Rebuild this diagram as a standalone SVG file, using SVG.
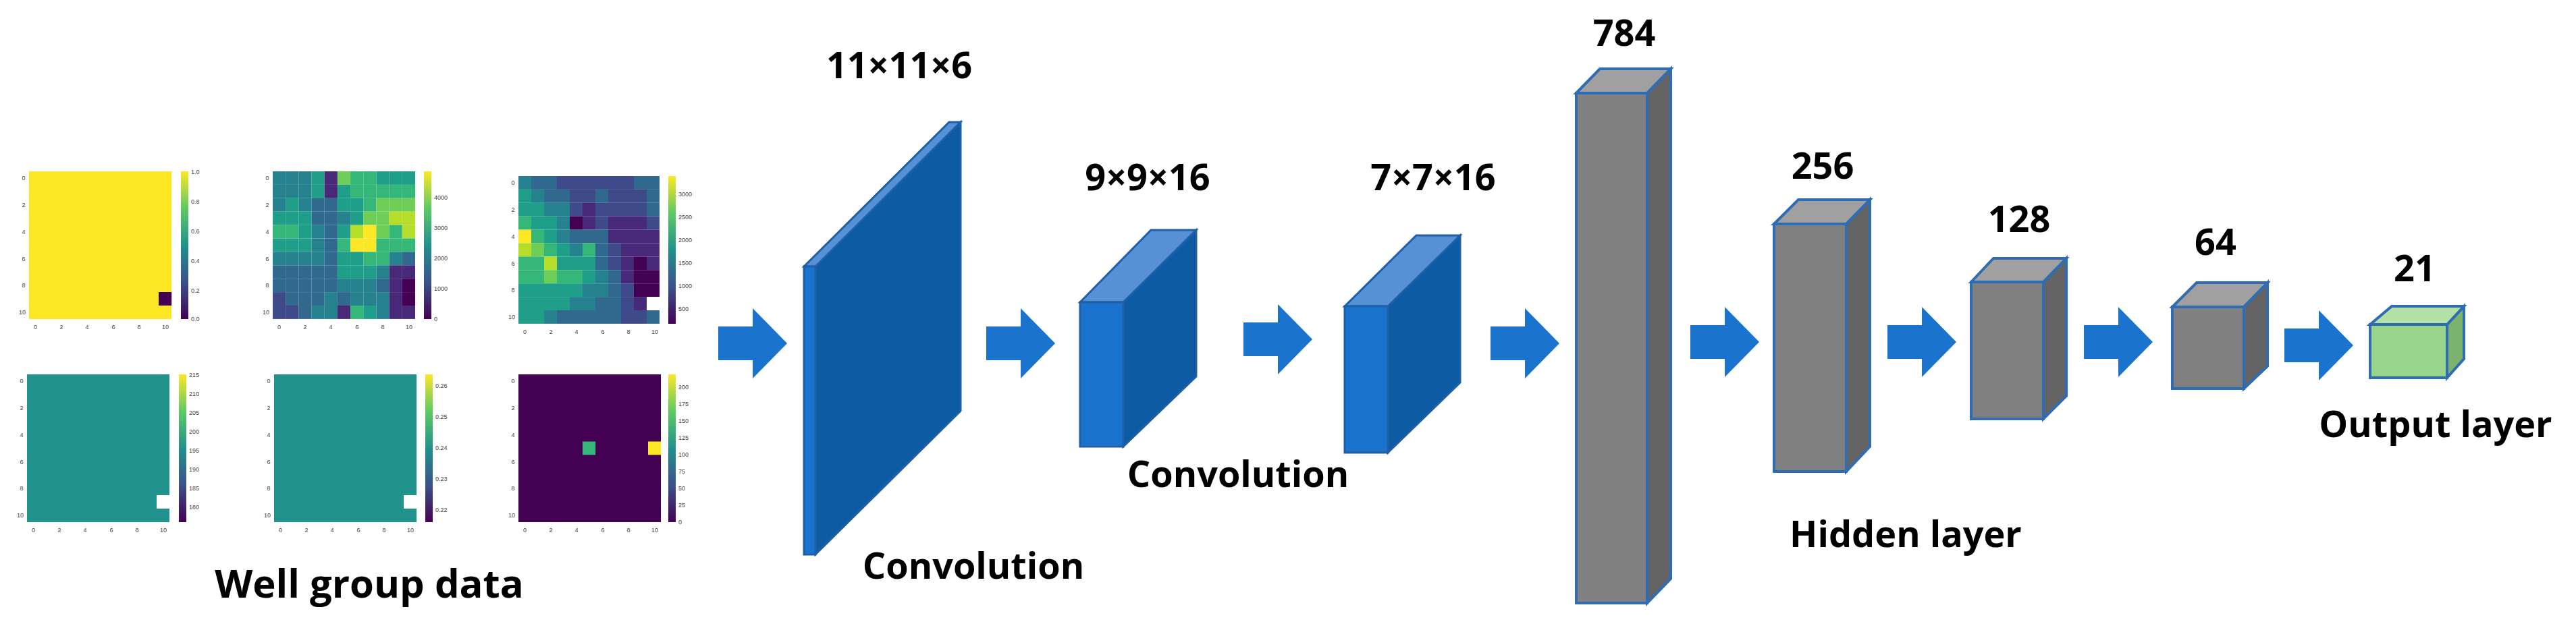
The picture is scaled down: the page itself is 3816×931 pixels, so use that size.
<svg xmlns="http://www.w3.org/2000/svg" width="3816" height="931" viewBox="0 0 3816 931">
<defs>
<linearGradient id="vir" x1="0" y1="1" x2="0" y2="0">
<stop offset="0" stop-color="#440154"/><stop offset="0.25" stop-color="#3b528b"/><stop offset="0.5" stop-color="#21918c"/><stop offset="0.75" stop-color="#5ec962"/><stop offset="1" stop-color="#fde725"/>
</linearGradient>
<path id="arr" d="M0,-25 H51 V-52 L102,0 L51,52 V25 H0 Z"/>
</defs>
<style>
.lbl{font-family:"Open Sans","Noto Sans",sans-serif;font-weight:700;font-size:54px;fill:#000;text-anchor:middle}
.big{font-size:58px}
.tk{font-family:"Liberation Sans",sans-serif;font-size:9px;fill:#444;text-anchor:middle}
.tkl{font-family:"Liberation Sans",sans-serif;font-size:9px;fill:#444;text-anchor:start}
.a{fill:#1a73cc}
.c0{fill:#440154}.c1{fill:#482878}.c2{fill:#3e4a89}.c3{fill:#31688e}.c4{fill:#26828e}.c5{fill:#1f9e89}.c6{fill:#35b779}.c7{fill:#6ece58}.c8{fill:#b5de2b}.c9{fill:#fde725}.cw{fill:#fff}.ct{fill:#21918c}
.bf{fill:#1a73cc;stroke:#1f5fa8;stroke-width:3}
.bs{fill:#0d5ba3;stroke:#1f5fa8;stroke-width:3}
.bt{fill:#5591d4;stroke:#1f5fa8;stroke-width:3}
.gf{fill:#808080;stroke:#2e6db4;stroke-width:4}
.gs{fill:#646464;stroke:#2e6db4;stroke-width:4}
.gt{fill:#a0a0a0;stroke:#2e6db4;stroke-width:4}
.nf{fill:#98d48a;stroke:#2e6db4;stroke-width:4}
.ns{fill:#7ab26e;stroke:#2e6db4;stroke-width:4}
.nt{fill:#b2e0a6;stroke:#2e6db4;stroke-width:4}
</style>

<g id="well-group-data">
<g transform="translate(43,254)">
<rect width="211" height="219" class="c9"/>
<rect x="192" y="179" width="19.2" height="19.9" class="c0"/>
<rect x="225" width="11" height="219" fill="url(#vir)"/>
<text class="tkl" x="240" y="4">1.0</text><text class="tkl" x="240" y="48">0.8</text><text class="tkl" x="240" y="92">0.6</text><text class="tkl" x="240" y="136">0.4</text><text class="tkl" x="240" y="180">0.2</text><text class="tkl" x="240" y="222">0.0</text>
</g>
<g id="p2" transform="translate(404,254)">
<g transform="scale(19.18,19.9)">
<rect x="0" y="0" width="1" height="1" class="c4"/><rect x="1" y="0" width="1" height="1" class="c4"/><rect x="2" y="0" width="1" height="1" class="c4"/><rect x="3" y="0" width="1" height="1" class="c5"/><rect x="4" y="0" width="1" height="1" class="c1"/><rect x="5" y="0" width="1" height="1" class="c7"/><rect x="6" y="0" width="1" height="1" class="c6"/><rect x="7" y="0" width="1" height="1" class="c6"/><rect x="8" y="0" width="1" height="1" class="c5"/><rect x="9" y="0" width="1" height="1" class="c5"/><rect x="10" y="0" width="1" height="1" class="c5"/>
<rect x="0" y="1" width="1" height="1" class="c4"/><rect x="1" y="1" width="1" height="1" class="c4"/><rect x="2" y="1" width="1" height="1" class="c4"/><rect x="3" y="1" width="1" height="1" class="c5"/><rect x="4" y="1" width="1" height="1" class="c1"/><rect x="5" y="1" width="1" height="1" class="c5"/><rect x="6" y="1" width="1" height="1" class="c6"/><rect x="7" y="1" width="1" height="1" class="c6"/><rect x="8" y="1" width="1" height="1" class="c6"/><rect x="9" y="1" width="1" height="1" class="c6"/><rect x="10" y="1" width="1" height="1" class="c6"/>
<rect x="0" y="2" width="1" height="1" class="c4"/><rect x="1" y="2" width="1" height="1" class="c5"/><rect x="2" y="2" width="1" height="1" class="c4"/><rect x="3" y="2" width="1" height="1" class="c3"/><rect x="4" y="2" width="1" height="1" class="c3"/><rect x="5" y="2" width="1" height="1" class="c5"/><rect x="6" y="2" width="1" height="1" class="c5"/><rect x="7" y="2" width="1" height="1" class="c6"/><rect x="8" y="2" width="1" height="1" class="c7"/><rect x="9" y="2" width="1" height="1" class="c7"/><rect x="10" y="2" width="1" height="1" class="c7"/>
<rect x="0" y="3" width="1" height="1" class="c5"/><rect x="1" y="3" width="1" height="1" class="c5"/><rect x="2" y="3" width="1" height="1" class="c5"/><rect x="3" y="3" width="1" height="1" class="c3"/><rect x="4" y="3" width="1" height="1" class="c3"/><rect x="5" y="3" width="1" height="1" class="c4"/><rect x="6" y="3" width="1" height="1" class="c5"/><rect x="7" y="3" width="1" height="1" class="c7"/><rect x="8" y="3" width="1" height="1" class="c7"/><rect x="9" y="3" width="1" height="1" class="c8"/><rect x="10" y="3" width="1" height="1" class="c8"/>
<rect x="0" y="4" width="1" height="1" class="c6"/><rect x="1" y="4" width="1" height="1" class="c6"/><rect x="2" y="4" width="1" height="1" class="c5"/><rect x="3" y="4" width="1" height="1" class="c4"/><rect x="4" y="4" width="1" height="1" class="c3"/><rect x="5" y="4" width="1" height="1" class="c5"/><rect x="6" y="4" width="1" height="1" class="c8"/><rect x="7" y="4" width="1" height="1" class="c9"/><rect x="8" y="4" width="1" height="1" class="c7"/><rect x="9" y="4" width="1" height="1" class="c6"/><rect x="10" y="4" width="1" height="1" class="c8"/>
<rect x="0" y="5" width="1" height="1" class="c5"/><rect x="1" y="5" width="1" height="1" class="c5"/><rect x="2" y="5" width="1" height="1" class="c5"/><rect x="3" y="5" width="1" height="1" class="c4"/><rect x="4" y="5" width="1" height="1" class="c3"/><rect x="5" y="5" width="1" height="1" class="c6"/><rect x="6" y="5" width="1" height="1" class="c9"/><rect x="7" y="5" width="1" height="1" class="c9"/><rect x="8" y="5" width="1" height="1" class="c6"/><rect x="9" y="5" width="1" height="1" class="c6"/><rect x="10" y="5" width="1" height="1" class="c6"/>
<rect x="0" y="6" width="1" height="1" class="c4"/><rect x="1" y="6" width="1" height="1" class="c4"/><rect x="2" y="6" width="1" height="1" class="c4"/><rect x="3" y="6" width="1" height="1" class="c4"/><rect x="4" y="6" width="1" height="1" class="c3"/><rect x="5" y="6" width="1" height="1" class="c5"/><rect x="6" y="6" width="1" height="1" class="c5"/><rect x="7" y="6" width="1" height="1" class="c6"/><rect x="8" y="6" width="1" height="1" class="c6"/><rect x="9" y="6" width="1" height="1" class="c4"/><rect x="10" y="6" width="1" height="1" class="c3"/>
<rect x="0" y="7" width="1" height="1" class="c3"/><rect x="1" y="7" width="1" height="1" class="c3"/><rect x="2" y="7" width="1" height="1" class="c3"/><rect x="3" y="7" width="1" height="1" class="c3"/><rect x="4" y="7" width="1" height="1" class="c3"/><rect x="5" y="7" width="1" height="1" class="c5"/><rect x="6" y="7" width="1" height="1" class="c5"/><rect x="7" y="7" width="1" height="1" class="c5"/><rect x="8" y="7" width="1" height="1" class="c4"/><rect x="9" y="7" width="1" height="1" class="c1"/><rect x="10" y="7" width="1" height="1" class="c1"/>
<rect x="0" y="8" width="1" height="1" class="c3"/><rect x="1" y="8" width="1" height="1" class="c3"/><rect x="2" y="8" width="1" height="1" class="c3"/><rect x="3" y="8" width="1" height="1" class="c3"/><rect x="4" y="8" width="1" height="1" class="c3"/><rect x="5" y="8" width="1" height="1" class="c4"/><rect x="6" y="8" width="1" height="1" class="c4"/><rect x="7" y="8" width="1" height="1" class="c4"/><rect x="8" y="8" width="1" height="1" class="c3"/><rect x="9" y="8" width="1" height="1" class="c1"/><rect x="10" y="8" width="1" height="1" class="c0"/>
<rect x="0" y="9" width="1" height="1" class="c2"/><rect x="1" y="9" width="1" height="1" class="c3"/><rect x="2" y="9" width="1" height="1" class="c3"/><rect x="3" y="9" width="1" height="1" class="c3"/><rect x="4" y="9" width="1" height="1" class="c4"/><rect x="5" y="9" width="1" height="1" class="c3"/><rect x="6" y="9" width="1" height="1" class="c4"/><rect x="7" y="9" width="1" height="1" class="c4"/><rect x="8" y="9" width="1" height="1" class="c4"/><rect x="9" y="9" width="1" height="1" class="c1"/><rect x="10" y="9" width="1" height="1" class="c0"/>
<rect x="0" y="10" width="1" height="1" class="c2"/><rect x="1" y="10" width="1" height="1" class="c2"/><rect x="2" y="10" width="1" height="1" class="c3"/><rect x="3" y="10" width="1" height="1" class="c4"/><rect x="4" y="10" width="1" height="1" class="c4"/><rect x="5" y="10" width="1" height="1" class="c1"/><rect x="6" y="10" width="1" height="1" class="c6"/><rect x="7" y="10" width="1" height="1" class="c5"/><rect x="8" y="10" width="1" height="1" class="c4"/><rect x="9" y="10" width="1" height="1" class="c1"/><rect x="10" y="10" width="1" height="1" class="c1"/>
</g>
<rect x="224" width="11" height="219" fill="url(#vir)"/>
<text class="tkl" x="239" y="42">4000</text><text class="tkl" x="239" y="87">3000</text><text class="tkl" x="239" y="132">2000</text><text class="tkl" x="239" y="177">1000</text><text class="tkl" x="239" y="222">0</text>
</g>
<g transform="translate(768,261)">
<g transform="scale(19,19.9)">
<rect x="0" y="0" width="1" height="1" class="c4"/><rect x="1" y="0" width="1" height="1" class="c3"/><rect x="2" y="0" width="1" height="1" class="c3"/><rect x="3" y="0" width="1" height="1" class="c2"/><rect x="4" y="0" width="1" height="1" class="c2"/><rect x="5" y="0" width="1" height="1" class="c2"/><rect x="6" y="0" width="1" height="1" class="c2"/><rect x="7" y="0" width="1" height="1" class="c2"/><rect x="8" y="0" width="1" height="1" class="c2"/><rect x="9" y="0" width="1" height="1" class="c3"/><rect x="10" y="0" width="1" height="1" class="c3"/>
<rect x="0" y="1" width="1" height="1" class="c5"/><rect x="1" y="1" width="1" height="1" class="c4"/><rect x="2" y="1" width="1" height="1" class="c3"/><rect x="3" y="1" width="1" height="1" class="c3"/><rect x="4" y="1" width="1" height="1" class="c2"/><rect x="5" y="1" width="1" height="1" class="c2"/><rect x="6" y="1" width="1" height="1" class="c3"/><rect x="7" y="1" width="1" height="1" class="c2"/><rect x="8" y="1" width="1" height="1" class="c2"/><rect x="9" y="1" width="1" height="1" class="c2"/><rect x="10" y="1" width="1" height="1" class="c3"/>
<rect x="0" y="2" width="1" height="1" class="c5"/><rect x="1" y="2" width="1" height="1" class="c5"/><rect x="2" y="2" width="1" height="1" class="c4"/><rect x="3" y="2" width="1" height="1" class="c4"/><rect x="4" y="2" width="1" height="1" class="c2"/><rect x="5" y="2" width="1" height="1" class="c1"/><rect x="6" y="2" width="1" height="1" class="c2"/><rect x="7" y="2" width="1" height="1" class="c2"/><rect x="8" y="2" width="1" height="1" class="c2"/><rect x="9" y="2" width="1" height="1" class="c2"/><rect x="10" y="2" width="1" height="1" class="c3"/>
<rect x="0" y="3" width="1" height="1" class="c6"/><rect x="1" y="3" width="1" height="1" class="c5"/><rect x="2" y="3" width="1" height="1" class="c5"/><rect x="3" y="3" width="1" height="1" class="c4"/><rect x="4" y="3" width="1" height="1" class="c0"/><rect x="5" y="3" width="1" height="1" class="c1"/><rect x="6" y="3" width="1" height="1" class="c2"/><rect x="7" y="3" width="1" height="1" class="c1"/><rect x="8" y="3" width="1" height="1" class="c1"/><rect x="9" y="3" width="1" height="1" class="c1"/><rect x="10" y="3" width="1" height="1" class="c2"/>
<rect x="0" y="4" width="1" height="1" class="c9"/><rect x="1" y="4" width="1" height="1" class="c6"/><rect x="2" y="4" width="1" height="1" class="c5"/><rect x="3" y="4" width="1" height="1" class="c4"/><rect x="4" y="4" width="1" height="1" class="c3"/><rect x="5" y="4" width="1" height="1" class="c3"/><rect x="6" y="4" width="1" height="1" class="c3"/><rect x="7" y="4" width="1" height="1" class="c1"/><rect x="8" y="4" width="1" height="1" class="c1"/><rect x="9" y="4" width="1" height="1" class="c1"/><rect x="10" y="4" width="1" height="1" class="c1"/>
<rect x="0" y="5" width="1" height="1" class="c8"/><rect x="1" y="5" width="1" height="1" class="c7"/><rect x="2" y="5" width="1" height="1" class="c6"/><rect x="3" y="5" width="1" height="1" class="c5"/><rect x="4" y="5" width="1" height="1" class="c4"/><rect x="5" y="5" width="1" height="1" class="c6"/><rect x="6" y="5" width="1" height="1" class="c3"/><rect x="7" y="5" width="1" height="1" class="c2"/><rect x="8" y="5" width="1" height="1" class="c1"/><rect x="9" y="5" width="1" height="1" class="c1"/><rect x="10" y="5" width="1" height="1" class="c1"/>
<rect x="0" y="6" width="1" height="1" class="c6"/><rect x="1" y="6" width="1" height="1" class="c6"/><rect x="2" y="6" width="1" height="1" class="c8"/><rect x="3" y="6" width="1" height="1" class="c5"/><rect x="4" y="6" width="1" height="1" class="c5"/><rect x="5" y="6" width="1" height="1" class="c5"/><rect x="6" y="6" width="1" height="1" class="c3"/><rect x="7" y="6" width="1" height="1" class="c2"/><rect x="8" y="6" width="1" height="1" class="c1"/><rect x="9" y="6" width="1" height="1" class="c0"/><rect x="10" y="6" width="1" height="1" class="c1"/>
<rect x="0" y="7" width="1" height="1" class="c6"/><rect x="1" y="7" width="1" height="1" class="c6"/><rect x="2" y="7" width="1" height="1" class="c7"/><rect x="3" y="7" width="1" height="1" class="c6"/><rect x="4" y="7" width="1" height="1" class="c6"/><rect x="5" y="7" width="1" height="1" class="c5"/><rect x="6" y="7" width="1" height="1" class="c4"/><rect x="7" y="7" width="1" height="1" class="c3"/><rect x="8" y="7" width="1" height="1" class="c1"/><rect x="9" y="7" width="1" height="1" class="c0"/><rect x="10" y="7" width="1" height="1" class="c0"/>
<rect x="0" y="8" width="1" height="1" class="c5"/><rect x="1" y="8" width="1" height="1" class="c5"/><rect x="2" y="8" width="1" height="1" class="c5"/><rect x="3" y="8" width="1" height="1" class="c5"/><rect x="4" y="8" width="1" height="1" class="c5"/><rect x="5" y="8" width="1" height="1" class="c4"/><rect x="6" y="8" width="1" height="1" class="c4"/><rect x="7" y="8" width="1" height="1" class="c3"/><rect x="8" y="8" width="1" height="1" class="c2"/><rect x="9" y="8" width="1" height="1" class="c0"/><rect x="10" y="8" width="1" height="1" class="c0"/>
<rect x="0" y="9" width="1" height="1" class="c5"/><rect x="1" y="9" width="1" height="1" class="c5"/><rect x="2" y="9" width="1" height="1" class="c5"/><rect x="3" y="9" width="1" height="1" class="c5"/><rect x="4" y="9" width="1" height="1" class="c4"/><rect x="5" y="9" width="1" height="1" class="c4"/><rect x="6" y="9" width="1" height="1" class="c3"/><rect x="7" y="9" width="1" height="1" class="c3"/><rect x="8" y="9" width="1" height="1" class="c2"/><rect x="9" y="9" width="1" height="1" class="c1"/><rect x="10" y="9" width="1" height="1" class="cw"/>
<rect x="0" y="10" width="1" height="1" class="c5"/><rect x="1" y="10" width="1" height="1" class="c5"/><rect x="2" y="10" width="1" height="1" class="c4"/><rect x="3" y="10" width="1" height="1" class="c3"/><rect x="4" y="10" width="1" height="1" class="c3"/><rect x="5" y="10" width="1" height="1" class="c3"/><rect x="6" y="10" width="1" height="1" class="c3"/><rect x="7" y="10" width="1" height="1" class="c3"/><rect x="8" y="10" width="1" height="1" class="c2"/><rect x="9" y="10" width="1" height="1" class="c2"/><rect x="10" y="10" width="1" height="1" class="c3"/>
</g>
<rect x="222" width="11" height="219" fill="url(#vir)"/>
<text class="tkl" x="237" y="30">3000</text><text class="tkl" x="237" y="64">2500</text><text class="tkl" x="237" y="98">2000</text><text class="tkl" x="237" y="132">1500</text><text class="tkl" x="237" y="166">1000</text><text class="tkl" x="237" y="200">500</text>
</g>
<g transform="translate(40,555)">
<rect width="211" height="219" class="ct"/>
<rect x="192" y="179" width="19.2" height="19.9" class="cw"/>
<rect x="225" width="11" height="219" fill="url(#vir)"/>
<text class="tkl" x="240" y="4">215</text><text class="tkl" x="240" y="32">210</text><text class="tkl" x="240" y="60">205</text><text class="tkl" x="240" y="88">200</text><text class="tkl" x="240" y="116">195</text><text class="tkl" x="240" y="144">190</text><text class="tkl" x="240" y="172">185</text><text class="tkl" x="240" y="200">180</text>
</g>
<g transform="translate(406,555)">
<rect width="211" height="219" class="ct"/>
<rect x="192" y="179" width="19.2" height="19.9" class="cw"/>
<rect x="224" width="11" height="219" fill="url(#vir)"/>
<text class="tkl" x="239" y="20">0.26</text><text class="tkl" x="239" y="66">0.25</text><text class="tkl" x="239" y="112">0.24</text><text class="tkl" x="239" y="158">0.23</text><text class="tkl" x="239" y="204">0.22</text>
</g>
<g transform="translate(768,555)">
<rect width="211" height="219" class="c0"/>
<rect x="95" y="99.5" width="19.2" height="19.9" class="c6"/>
<rect x="192" y="99.5" width="19.2" height="19.9" class="c9"/>
<rect x="222" width="11" height="219" fill="url(#vir)"/>
<text class="tkl" x="237" y="22">200</text><text class="tkl" x="237" y="47">175</text><text class="tkl" x="237" y="72">150</text><text class="tkl" x="237" y="97">125</text><text class="tkl" x="237" y="122">100</text><text class="tkl" x="237" y="147">75</text><text class="tkl" x="237" y="172">50</text><text class="tkl" x="237" y="197">25</text><text class="tkl" x="237" y="222">0</text>
</g>
<g id="ticks">
<g transform="translate(43,254)"><text class="tk" x="9.6" y="234">0</text><text class="tk" x="48" y="234">2</text><text class="tk" x="86" y="234">4</text><text class="tk" x="125" y="234">6</text><text class="tk" x="163" y="234">8</text><text class="tk" x="202" y="234">10</text><text class="tk" x="-8" y="13">0</text><text class="tk" x="-8" y="53">2</text><text class="tk" x="-8" y="93">4</text><text class="tk" x="-8" y="133">6</text><text class="tk" x="-8" y="172">8</text><text class="tk" x="-10" y="212">10</text></g>
<g transform="translate(404,254)"><text class="tk" x="9.6" y="234">0</text><text class="tk" x="48" y="234">2</text><text class="tk" x="86" y="234">4</text><text class="tk" x="125" y="234">6</text><text class="tk" x="163" y="234">8</text><text class="tk" x="202" y="234">10</text><text class="tk" x="-8" y="13">0</text><text class="tk" x="-8" y="53">2</text><text class="tk" x="-8" y="93">4</text><text class="tk" x="-8" y="133">6</text><text class="tk" x="-8" y="172">8</text><text class="tk" x="-10" y="212">10</text></g>
<g transform="translate(768,261)"><text class="tk" x="9.6" y="234">0</text><text class="tk" x="48" y="234">2</text><text class="tk" x="86" y="234">4</text><text class="tk" x="125" y="234">6</text><text class="tk" x="163" y="234">8</text><text class="tk" x="202" y="234">10</text><text class="tk" x="-8" y="13">0</text><text class="tk" x="-8" y="53">2</text><text class="tk" x="-8" y="93">4</text><text class="tk" x="-8" y="133">6</text><text class="tk" x="-8" y="172">8</text><text class="tk" x="-10" y="212">10</text></g>
<g transform="translate(40,555)"><text class="tk" x="9.6" y="234">0</text><text class="tk" x="48" y="234">2</text><text class="tk" x="86" y="234">4</text><text class="tk" x="125" y="234">6</text><text class="tk" x="163" y="234">8</text><text class="tk" x="202" y="234">10</text><text class="tk" x="-8" y="13">0</text><text class="tk" x="-8" y="53">2</text><text class="tk" x="-8" y="93">4</text><text class="tk" x="-8" y="133">6</text><text class="tk" x="-8" y="172">8</text><text class="tk" x="-10" y="212">10</text></g>
<g transform="translate(406,555)"><text class="tk" x="9.6" y="234">0</text><text class="tk" x="48" y="234">2</text><text class="tk" x="86" y="234">4</text><text class="tk" x="125" y="234">6</text><text class="tk" x="163" y="234">8</text><text class="tk" x="202" y="234">10</text><text class="tk" x="-8" y="13">0</text><text class="tk" x="-8" y="53">2</text><text class="tk" x="-8" y="93">4</text><text class="tk" x="-8" y="133">6</text><text class="tk" x="-8" y="172">8</text><text class="tk" x="-10" y="212">10</text></g>
<g transform="translate(768,555)"><text class="tk" x="9.6" y="234">0</text><text class="tk" x="48" y="234">2</text><text class="tk" x="86" y="234">4</text><text class="tk" x="125" y="234">6</text><text class="tk" x="163" y="234">8</text><text class="tk" x="202" y="234">10</text><text class="tk" x="-8" y="13">0</text><text class="tk" x="-8" y="53">2</text><text class="tk" x="-8" y="93">4</text><text class="tk" x="-8" y="133">6</text><text class="tk" x="-8" y="172">8</text><text class="tk" x="-10" y="212">10</text></g>
</g>
<text class="lbl big" x="547" y="886">Well group data</text>
</g>

<g id="connectors">
<use href="#arr" class="a" x="1064" y="509"/>
<use href="#arr" class="a" x="1461" y="509"/>
<use href="#arr" class="a" x="1842" y="503"/>
<use href="#arr" class="a" x="2208" y="509"/>
<use href="#arr" class="a" x="2504" y="507"/>
<use href="#arr" class="a" x="2796" y="507"/>
<use href="#arr" class="a" x="3087" y="507"/>
<use href="#arr" class="a" x="3384" y="512"/>
</g>

<g id="conv1">
<polygon class="bs" points="1208,395 1423,181 1423,609 1208,822"/>
<polygon class="bt" points="1191,395 1406,181 1423,181 1208,395"/>
<rect class="bf" x="1191" y="395" width="17" height="427"/>
<text class="lbl" x="1332" y="116">11×11×6</text>
<text class="lbl" x="1442" y="858">Convolution</text>
</g>
<g id="conv2">
<polygon class="bs" points="1664,448 1772,341 1772,558 1664,662"/>
<polygon class="bt" points="1600,448 1705,341 1772,341 1664,448"/>
<rect class="bf" x="1600" y="448" width="64" height="214"/>
<text class="lbl" x="1700" y="282">9×9×16</text>
<text class="lbl" x="1834" y="722">Convolution</text>
</g>
<g id="conv3">
<polygon class="bs" points="2056,454 2163,349 2163,567 2056,671"/>
<polygon class="bt" points="1992,454 2098,349 2163,349 2056,454"/>
<rect class="bf" x="1992" y="454" width="64" height="217"/>
<text class="lbl" x="2123" y="282">7×7×16</text>
</g>
<g id="fc784">
<polygon class="gs" points="2440,138 2475,102 2475,858 2440,894"/>
<polygon class="gt" points="2335,138 2370,102 2475,102 2440,138"/>
<rect class="gf" x="2335" y="138" width="105" height="756"/>
<text class="lbl" x="2406" y="68">784</text>
</g>
<g id="fc256">
<polygon class="gs" points="2735,332 2770,296 2770,662 2735,699"/>
<polygon class="gt" points="2628,332 2664,296 2770,296 2735,332"/>
<rect class="gf" x="2628" y="332" width="107" height="367"/>
<text class="lbl" x="2700" y="265">256</text>
<text class="lbl" x="2823" y="811">Hidden layer</text>
</g>
<g id="fc128">
<polygon class="gs" points="3027,418 3061,383 3061,587 3027,621"/>
<polygon class="gt" points="2920,418 2953,383 3061,383 3027,418"/>
<rect class="gf" x="2920" y="418" width="107" height="203"/>
<text class="lbl" x="2991" y="344">128</text>
</g>
<g id="fc64">
<polygon class="gs" points="3324,455 3359,419 3359,543 3324,576"/>
<polygon class="gt" points="3218,455 3254,419 3359,419 3324,455"/>
<rect class="gf" x="3218" y="455" width="106" height="121"/>
<text class="lbl" x="3282" y="378">64</text>
</g>
<g id="out21">
<polygon class="ns" points="3625,481 3650,454 3650,532 3625,560"/>
<polygon class="nt" points="3511,481 3543,454 3650,454 3625,481"/>
<rect class="nf" x="3511" y="481" width="114" height="79"/>
<text class="lbl" x="3577" y="417">21</text>
<text class="lbl" x="3608" y="648">Output layer</text>
</g>
</svg>
